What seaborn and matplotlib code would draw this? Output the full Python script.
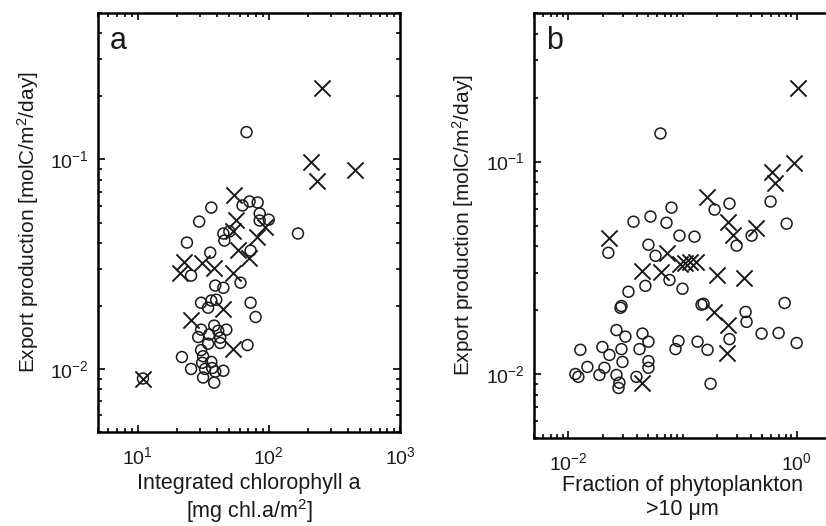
import numpy as np
import pandas as pd
import seaborn as sns
import matplotlib.pyplot as plt
from matplotlib.ticker import LogLocator, NullFormatter, FixedLocator

# panel a: integrated chlorophyll a [mg chl.a/m2] vs export production [molC/m2/day]
chl_circ = [67.7, 167, 63.1, 71.4, 82.3, 36.5, 29.5, 85.3, 85.3, 100, 45.1, 50.1, 45.9,
            23.8, 35.8, 72.7, 25.6, 39.1, 45.1, 60.9, 30.5, 34.5, 36.5, 39.8, 72.7, 79.4,
            30.5, 29.0, 35.2, 38.4, 41.2, 47.5, 42.7, 34.5, 42.7, 68.9, 30.5, 21.8, 31.6,
            31.1, 36.5, 32.7, 37.1, 39.1, 45.1, 25.6, 31.6, 38.4, 11.0]
ep_a_circ = [0.135, 0.0443, 0.0603, 0.0630, 0.0623, 0.0589, 0.0505, 0.0552, 0.0511, 0.0516,
             0.0443, 0.0453, 0.0410, 0.0401, 0.0359, 0.0367, 0.0279, 0.0250, 0.0244, 0.0258,
             0.0207, 0.0196, 0.0212, 0.0214, 0.0207, 0.0177, 0.0154, 0.0142, 0.0146, 0.0161,
             0.0152, 0.0154, 0.0141, 0.0132, 0.0133, 0.0130, 0.0123, 0.0114, 0.0115, 0.0107,
             0.0108, 0.0100, 0.0101, 0.0097, 0.0098, 0.0100, 0.0091, 0.0086, 0.0090]
chl_cross = [256, 210, 451, 234, 54.7, 56.7, 93.1, 53.8, 80.8, 57.8, 70.2, 22.6, 31.1,
             38.4, 21.0, 53.8, 45.1, 25.6, 53.8, 11.0]
ep_a_cross = [0.219, 0.0967, 0.0886, 0.0785, 0.0680, 0.0516, 0.0478, 0.0457, 0.0428, 0.0371,
              0.0340, 0.0325, 0.0322, 0.0304, 0.0288, 0.0288, 0.0194, 0.0171, 0.0125, 0.0090]

# panel b: fraction of phytoplankton >10 um vs export production
frac_circ = [0.0641, 0.591, 0.191, 0.258, 0.0801, 0.0524, 0.0372, 0.0724, 0.817, 0.403,
             0.0941, 0.1274, 0.0503, 0.298, 0.0224, 0.0580, 0.0769, 0.0473, 0.100, 0.0336,
             0.0292, 0.0286, 0.1468, 0.1528, 0.357, 0.364, 0.785, 0.0264, 0.0316, 0.0446,
             0.0503, 0.01274, 0.01987, 0.0229, 0.0292, 0.0420, 0.0298, 0.0503, 0.0503,
             0.01468, 0.01152, 0.01224, 0.01871, 0.0207, 0.0264, 0.0280, 0.0275, 0.0395,
             0.0922, 0.0868, 0.1354, 0.1657, 0.258, 0.1762, 0.493, 0.695, 1.0]
ep_b_circ = [0.1355, 0.0648, 0.0594, 0.0634, 0.0607, 0.0551, 0.0521, 0.0515, 0.0510, 0.0448,
             0.0448, 0.0443, 0.0406, 0.0402, 0.0372, 0.0360, 0.0277, 0.0260, 0.0252, 0.0244,
             0.0209, 0.0205, 0.0212, 0.0214, 0.0196, 0.0176, 0.0216, 0.0161, 0.0150, 0.0155,
             0.0142, 0.0130, 0.0134, 0.0123, 0.0131, 0.0131, 0.0114, 0.0115, 0.0107,
             0.0108, 0.0100, 0.0097, 0.0099, 0.0107, 0.0099, 0.0091, 0.0086, 0.0097,
             0.0143, 0.0131, 0.0142, 0.0130, 0.0146, 0.0090, 0.0155, 0.0156, 0.0140]
frac_cross = [1.02, 0.942, 0.604, 0.641, 0.1625, 0.248, 0.275, 0.437, 0.0229, 0.0738,
              0.0960, 0.106, 0.1175, 0.130, 0.0446, 0.0654, 0.1987, 0.343, 0.187, 0.248,
              0.243, 0.0446]
ep_b_cross = [0.221, 0.0979, 0.0897, 0.0796, 0.0684, 0.0521, 0.0453, 0.0489, 0.0438, 0.0372,
              0.0330, 0.0334, 0.0338, 0.0338, 0.0306, 0.0303, 0.0293, 0.0284, 0.0196, 0.0170,
              0.0126, 0.0091]

sns.set_theme(style='ticks')
plt.rcParams['font.family'] = ['Liberation Sans', 'DejaVu Sans']
plt.rcParams['mathtext.fontset'] = 'custom'
plt.rcParams['mathtext.rm'] = 'Liberation Sans'
plt.rcParams['mathtext.it'] = 'Liberation Sans:italic'
plt.rcParams['text.color'] = '#1a1a1a'
plt.rcParams['axes.labelcolor'] = '#1a1a1a'
plt.rcParams['xtick.labelcolor'] = '#1a1a1a'
plt.rcParams['ytick.labelcolor'] = '#1a1a1a'

fig = plt.figure(figsize=(8.26, 5.26), dpi=100)
ax_a = fig.add_axes([98 / 826, 1 - 432 / 526, 302 / 826, 419 / 526])
ax_b = fig.add_axes([534 / 826, 1 - 438 / 526, 297 / 826, 425 / 526])

panels = [
    (ax_a, chl_circ, ep_a_circ, chl_cross, ep_a_cross, (5, 1000), 'a',
     'Integrated chlorophyll a\n[mg chl.a/m$^2$]', -0.19, 4),
    (ax_b, frac_circ, ep_b_circ, frac_cross, ep_b_cross, (0.005, 2), 'b',
     'Fraction of phytoplankton\n>10 \u03bcm', -0.195, 1),
]

for ax, xc, yc, xx, yx, xlim, letter, xlabel, ylab_x, xpad in panels:
    sns.scatterplot(x=xc, y=yc, ax=ax, marker='o', s=62, facecolors='none',
                    edgecolor='#1a1a1a', linewidth=1.1, zorder=3)
    sns.scatterplot(x=xx, y=yx, ax=ax, marker='x', s=135, color='#1a1a1a',
                    linewidth=1.4, zorder=4)
    ax.set_xscale('log')
    ax.set_yscale('log')
    ax.set_xlim(*xlim)
    ax.set_ylim(0.005, 0.5)
    ax.yaxis.set_major_locator(FixedLocator([0.01, 0.1]))
    ax.yaxis.set_minor_locator(LogLocator(base=10, subs=np.arange(2, 10)))
    ax.yaxis.set_minor_formatter(NullFormatter())
    ax.xaxis.set_minor_locator(LogLocator(base=10, subs=np.arange(2, 10)))
    ax.xaxis.set_minor_formatter(NullFormatter())
    ax.tick_params(which='both', direction='in', top=True, right=True,
                   labelsize=14, color='black', width=1.2)
    ax.tick_params(which='major', length=5, pad=7)
    ax.tick_params(axis='x', which='major', pad=10)
    ax.tick_params(which='minor', length=3)
    for sp in ax.spines.values():
        sp.set_linewidth(1.8)
        sp.set_color('black')
    ax.set_xlabel(xlabel, fontsize=15.5, labelpad=xpad, linespacing=1.15)
    ax.set_ylabel('Export production [molC/m$^2$/day]', fontsize=15)
    ax.yaxis.set_label_coords(ylab_x, 0.5)
    ax.text(0.04, 0.97, letter, transform=ax.transAxes, fontsize=22,
            ha='left', va='top')

ax_b.tick_params(which='both', right=False)
ax_b.xaxis.set_major_locator(FixedLocator([0.01, 1]))
ax_b.xaxis.set_minor_locator(FixedLocator(
    [m * 10.0 ** e for e in (-3, -2, -1, 0) for m in range(1, 10)
     if not (m == 1 and e in (-2, 0))]))
ax_b.xaxis.set_minor_formatter(NullFormatter())

fig.savefig('out.png', dpi=100)
